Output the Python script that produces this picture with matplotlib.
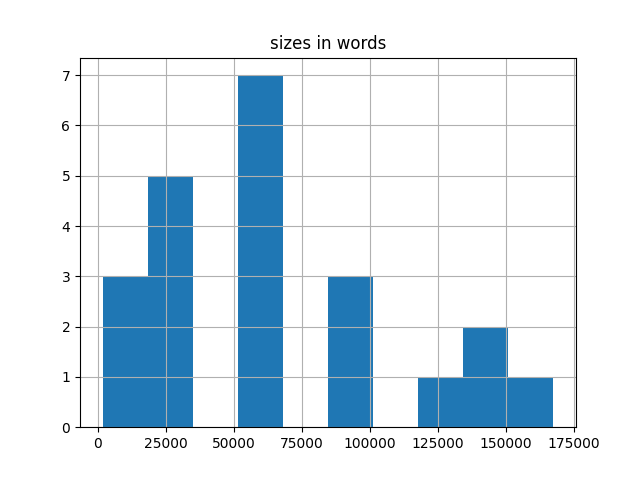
import matplotlib
matplotlib.use("Agg")
import matplotlib.pyplot as plt
import numpy as np

title = "sizes in words"
bin_min = 1700
bin_max = 167500
n_bins = 10
counts = [3, 5, 0, 7, 0, 3, 0, 1, 2, 1]

edges = np.linspace(bin_min, bin_max, n_bins + 1)
centers = (edges[:-1] + edges[1:]) / 2

fig, ax = plt.subplots(figsize=(6.4, 4.8), dpi=100)
ax.hist(centers, bins=edges, weights=counts, color="#1f77b4")
ax.grid(True)
ax.set_title(title)
fig.savefig("out.png")
